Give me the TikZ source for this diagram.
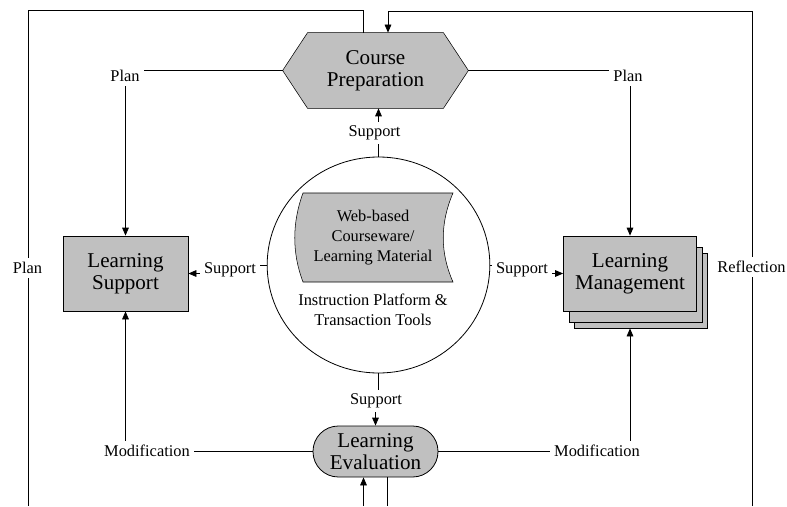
\documentclass[tikz,border=0pt]{standalone}
\usepackage{fontspec}
\setmainfont{Liberation Serif}
\usetikzlibrary{arrows.meta,shapes.geometric,backgrounds}
\definecolor{boxgray}{RGB}{192,192,192}
\tikzset{
  big/.style={font=\fontsize{15.8}{16.5}\selectfont,align=center,inner sep=1pt},
  mid/.style={font=\fontsize{12.3}{15}\selectfont,align=center},
  lbl/.style={font=\fontsize{12.3}{14}\selectfont,fill=white,inner sep=3pt},
  box/.style={draw,fill=boxgray,big,minimum width=93.75pt,minimum height=56.25pt},
}
\begin{document}
\begin{tikzpicture}[x=0.75pt,y=-0.75pt,>={Triangle[length=6pt,width=5pt]},line width=0.6pt]
\useasboundingbox (0,0) rectangle (787,506);
\node[big,minimum width=138.75pt,minimum height=56.25pt] (prep) at (375.5,70.5) {Course\\Preparation};
\node[box] (lsup) at (125.5,273.5) {Learning\\Support};
\node[box,minimum width=99.75pt] (lm3) at (641,290.5) {};\node[box,minimum width=99.75pt] (lm2) at (636,284.5) {};
\node[box,minimum width=99.75pt] (lm) at (630,273.5) {Learning\\Management};
\node[draw,fill=boxgray,big,rounded corners=19pt,minimum width=93.75pt,minimum height=38.25pt] (eval) at (375.5,451.5) {Learning\\Evaluation};
\node[draw,ellipse,minimum width=167pt,minimum height=162pt] (plat) at (378.5,265) {};
\node[mid] (web) at (373,238) {Web-based\\Courseware/\\Learning Material};
\node[mid] (tools) at (373,310) {Instruction Platform \&\\Transaction Tools};
\begin{scope}[on background layer]
\draw[fill=boxgray] (prep.west) -- ([xshift=18.75pt]prep.north west) -- ([xshift=-18.75pt]prep.north east) -- (prep.east) -- ([xshift=-18.75pt]prep.south east) -- ([xshift=18.75pt]prep.south west) -- cycle;
\draw[fill=boxgray] (303,193) -- (453,193) .. controls (440,223) and (440,253) .. (453,282) -- (303,282) .. controls (292,253) and (292,223) .. (303,193) -- cycle;
\end{scope}
% support
\draw[->] (plat.north) -- (plat.north |- prep.south);\node[lbl] (sup1) at (374.5,133) {Support};
\draw[->] (plat.west) -- ++(-20,0) |- (lsup.east);\node[lbl] (sup2) at (230,270) {Support};
\draw[->] (plat.east) -- ++(20,0) |- (lm.west);\node[lbl] (sup3) at (522,270) {Support};
\draw[->] (plat.south) -- ++(0,20) -| (eval.north);\node[lbl] (sup4) at (376,401) {Support};
% plan and modification
\draw[->] (prep.west) -| (lsup.north);\node[lbl] (plan1) at (125,76) {Plan};
\draw[->] (prep.east) -| (lm.north);\node[lbl] (plan2) at (628,76) {Plan};
\draw[->] (eval.west) -| (lsup.south);\node[lbl] (mod1) at (147,451) {Modification};
\draw[->] (eval.east) -| (lm.south |- lm3.south);\node[lbl] (mod2) at (597,451) {Modification};
% outer loop
\coordinate (bl) at (28,506);\coordinate (br) at (752,506);
\coordinate (inb) at (363.5,506);\coordinate (outb) at (387.5,506);
\draw ([xshift=-9.375pt]prep.north) -- ++(0,-22) -| (bl);\node[lbl] (plan3) at (27.5,268) {Plan};
\draw[->] (br) -- (752,11) -| ([xshift=9.375pt]prep.north);\node[lbl] (refl) at (751.5,267) {Reflection};
\draw[->] (inb) -- (inb |- eval.south);\draw (outb |- eval.south) -- (outb);
\end{tikzpicture}
\end{document}
